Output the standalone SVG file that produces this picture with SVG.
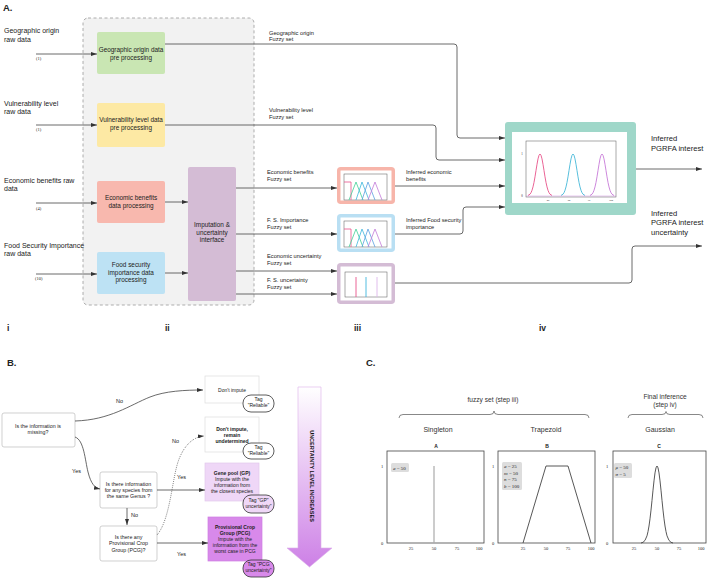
<svg xmlns="http://www.w3.org/2000/svg" width="708" height="580" viewBox="0 0 708 580">
<style>
text{font-family:"Liberation Sans",Arial,sans-serif;fill:#222}
.h{font-size:9.5px;font-weight:bold}
.raw{font-size:7px}
.bx{font-size:6.4px;text-anchor:middle}
.fz{font-size:5.7px}
.out{font-size:7.6px}
.bt{font-size:5.5px}
.btc{font-size:5.3px;text-anchor:middle}
.sm{font-size:5px;text-anchor:middle}
.smb{font-size:5px;text-anchor:middle;font-weight:bold}
.num{font-family:"Liberation Serif",serif;font-size:4.5px}
.tick{font-family:"Liberation Serif",serif;font-size:4.5px;text-anchor:middle}
.ct{font-size:6.6px;text-anchor:middle;fill:#333}
.ttl{font-size:7px;text-anchor:middle;fill:#333}
.lg{font-family:"Liberation Serif",serif;font-size:5px}
.conn path,.conn line{fill:none;stroke:#444;stroke-width:0.8}
.arr{marker-end:url(#ah)}
.wb{fill:#fff;stroke:#bbb;stroke-width:0.7}
.pill{stroke:#333;stroke-width:0.8}
.frame{fill:#fff;stroke:#444;stroke-width:0.8}
.mini{fill:none;stroke:#555;stroke-width:0.5}
</style>
<defs>
<marker id="ah" markerUnits="userSpaceOnUse" markerWidth="6" markerHeight="4" viewBox="0 0 6 4" refX="6" refY="2" orient="auto">
<path d="M0,0 L6,2 L0,4 z" fill="#333"/>
</marker>
<linearGradient id="ug" x1="0" y1="0" x2="0" y2="1">
<stop offset="0" stop-color="#ffffff"/>
<stop offset="1" stop-color="#cd80e6"/>
</linearGradient>
<path id="gauss" fill="none" stroke-width="0.9" d="M-12,195.5 L-10,194.2 L-9,192.7 L-8,190.3 L-7,186.9 L-6,182.4 L-5,176.8 L-4,170.5 L-3,164.3 L-2,158.9 L-1,155.3 L0,154 L1,155.3 L2,158.9 L3,164.3 L4,170.5 L5,176.8 L6,182.4 L7,186.9 L8,190.3 L9,192.7 L10,194.2 L12,195.5"/>
<g id="tri">
<rect x="344" y="174" width="43" height="26" class="mini"/>
<path d="M344,182 H351 V200" fill="none" stroke="#e8528a" stroke-width="0.8"/>
<path d="M349,200 L356,182 L363,200" fill="none" stroke="#3fcf95" stroke-width="0.8"/>
<path d="M356,200 L362,182 L369,200" fill="none" stroke="#3fb6dc" stroke-width="0.8"/>
<path d="M362,200 L368,182 L375,200" fill="none" stroke="#5a9fe0" stroke-width="0.8"/>
<path d="M368,200 L375,182 L382,200" fill="none" stroke="#c27ad8" stroke-width="0.8"/>
</g>
</defs>
<rect width="708" height="580" fill="#fff"/>

<!-- Section A -->
<text class="h" x="3" y="11">A.</text>
<rect id="stage-ii-area" x="83" y="18" width="171" height="287" rx="5" fill="#f2f2f2" stroke="#999" stroke-width="0.8" stroke-dasharray="3,2.5"/>

<g id="raw-geo"><text class="raw" x="4" y="32.5">Geographic origin</text><text class="raw" x="4" y="41.5">raw data</text><text class="num" x="36" y="60">(1)</text></g>
<g id="raw-vul"><text class="raw" x="4" y="105.5">Vulnerability level</text><text class="raw" x="4" y="114">raw data</text><text class="num" x="36" y="131">(1)</text></g>
<g id="raw-eco"><text class="raw" x="4" y="182.5">Economic benefits raw</text><text class="raw" x="4" y="191">data</text><text class="num" x="36" y="210">(4)</text></g>
<g id="raw-fs"><text class="raw" x="4" y="247.5">Food Security Importance</text><text class="raw" x="4" y="256">raw data</text><text class="num" x="35" y="280">(10)</text></g>

<g id="geo-proc"><rect x="97" y="32" width="68" height="42" rx="2" fill="#c9e6b3"/><text class="bx" x="131" y="52">Geographic origin data</text><text class="bx" x="131" y="59.5">pre processing</text></g>
<g id="vul-proc"><rect x="97" y="103" width="68" height="44" rx="2" fill="#fde9a4"/><text class="bx" x="131" y="122">Vulnerability level data</text><text class="bx" x="131" y="130">pre processing</text></g>
<g id="eco-proc"><rect x="97" y="181" width="68" height="42" rx="2" fill="#f8b8ae"/><text class="bx" x="131" y="200">Economic benefits</text><text class="bx" x="131" y="208">data processing</text></g>
<g id="fs-proc"><rect x="97" y="252" width="68" height="42" rx="2" fill="#bde2f4"/><text class="bx" x="131" y="267">Food security</text><text class="bx" x="131" y="275">importance data</text><text class="bx" x="131" y="282">processing</text></g>
<g id="imputation"><rect x="188" y="167" width="48" height="134" rx="2" fill="#d4bcd5"/><text class="bx" x="212" y="227">Imputation &amp;</text><text class="bx" x="212" y="235">uncertainty</text><text class="bx" x="212" y="242">interface</text></g>

<g id="fz-eco">
<rect x="338.75" y="168.75" width="54.5" height="33.5" rx="2" fill="#fff" stroke="#f7b5aa" stroke-width="3.5"/>
<use href="#tri"/>
</g>
<g id="fz-fs">
<rect x="338.75" y="215.75" width="54.5" height="34.5" rx="2" fill="#fff" stroke="#b9dff3" stroke-width="3.5"/>
<use href="#tri" transform="translate(0,47)"/>
</g>
<g id="fz-unc">
<rect x="338.75" y="264.75" width="54.5" height="37.5" rx="2" fill="#fff" stroke="#d4bcd5" stroke-width="3.5"/>
<rect x="345" y="272" width="42" height="25" class="mini"/>
<line x1="356" y1="277" x2="356" y2="297" stroke="#e8528a" stroke-width="0.9"/>
<line x1="366" y1="277" x2="366" y2="297" stroke="#3fb6dc" stroke-width="0.9"/>
<line x1="377" y1="277" x2="377" y2="297" stroke="#dcb6ea" stroke-width="0.9"/>
</g>

<g id="final-inference">
<rect x="505" y="122" width="131" height="93" rx="3" fill="#9fd7c9"/>
<rect x="512" y="132" width="115" height="71" fill="#fff"/>
<rect x="526" y="141" width="90" height="56" class="mini"/>
<use href="#gauss" x="540" stroke="#e8528a"/>
<use href="#gauss" x="573" stroke="#45b8d8"/>
<use href="#gauss" x="602" stroke="#c77ad8"/>
<line x1="526" y1="196" x2="616" y2="196" stroke="#c77ad8" stroke-width="0.4"/>
<text class="tick" x="522" y="155" style="font-size:3px">1</text>
<text class="tick" x="522" y="197" style="font-size:3px">0</text>
<text class="tick" x="548" y="201" style="font-size:2.6px">25</text>
<text class="tick" x="569" y="201" style="font-size:2.6px">50</text>
<text class="tick" x="589" y="201" style="font-size:2.6px">75</text>
<text class="tick" x="611" y="201" style="font-size:2.6px">100</text>
</g>

<g class="conn" id="connectors-a">
<line class="arr" x1="36" y1="54" x2="97" y2="54"/>
<line class="arr" x1="36" y1="125" x2="97" y2="125"/>
<line class="arr" x1="36" y1="203" x2="97" y2="203"/>
<line class="arr" x1="36" y1="274" x2="97" y2="274"/>
<line class="arr" x1="165" y1="202" x2="188" y2="202"/>
<line class="arr" x1="165" y1="273" x2="188" y2="273"/>
<path class="arr" d="M165,44 H454 Q457,44 457,47 V135 Q457,138 460,138 H505"/>
<path class="arr" d="M165,125 H433 Q436,125 436,128 V157 Q436,160 439,160 H505"/>
<line class="arr" x1="236" y1="188" x2="337" y2="188"/>
<line class="arr" x1="236" y1="234" x2="337" y2="234"/>
<line class="arr" x1="236" y1="271" x2="337" y2="271"/>
<line class="arr" x1="236" y1="294" x2="337" y2="294"/>
<line class="arr" x1="395" y1="186" x2="505" y2="186"/>
<path class="arr" d="M395,234 H460 Q463,234 463,231 V210 Q463,207 466,207 H505"/>
<path class="arr" d="M395,283 H629 Q632,283 632,280 V249 Q632,246 635,246 H702"/>
<line class="arr" x1="636" y1="169" x2="702" y2="169"/>
</g>

<g id="connector-labels-a">
<text class="fz" x="269" y="34.5">Geographic origin</text><text class="fz" x="269" y="41">Fuzzy set</text>
<text class="fz" x="269" y="112">Vulnerability level</text><text class="fz" x="269" y="119">Fuzzy set</text>
<text class="fz" x="267" y="174">Economic benefits</text><text class="fz" x="267" y="181">Fuzzy set</text>
<text class="fz" x="267" y="222">F. S. Importance</text><text class="fz" x="267" y="229">Fuzzy set</text>
<text class="fz" x="267" y="258">Economic uncertainty</text><text class="fz" x="267" y="265">Fuzzy set</text>
<text class="fz" x="267" y="282">F. S. uncertainty</text><text class="fz" x="267" y="289">Fuzzy set</text>
<text class="fz" x="406" y="174">Inferred economic</text><text class="fz" x="406" y="181">benefits</text>
<text class="fz" x="406" y="222">Inferred Food security</text><text class="fz" x="406" y="229">importance</text>
<text class="out" x="651" y="140.5">Inferred</text><text class="out" x="651" y="150.5">PGRFA interest</text>
<text class="out" x="651" y="215.5">Inferred</text><text class="out" x="651" y="225">PGRFA interest</text><text class="out" x="651" y="234.5">uncertainty</text>
</g>

<g id="stage-labels">
<text class="h" x="7" y="331" style="font-size:8.5px">i</text>
<text class="h" x="165" y="331" style="font-size:8.5px">ii</text>
<text class="h" x="354" y="331" style="font-size:8.5px">iii</text>
<text class="h" x="539" y="331" style="font-size:8.5px">iv</text>
</g>

<!-- Section B -->
<text class="h" x="7" y="366">B.</text>
<g id="q-missing"><rect class="wb" x="2" y="413" width="73" height="34" rx="2"/><text class="btc" x="38" y="427.5">Is the information is</text><text class="btc" x="38" y="434">missing?</text></g>
<g id="q-genus"><rect class="wb" x="100" y="472" width="57" height="36" rx="2"/><text class="btc" x="128.5" y="485.5">Is there information</text><text class="btc" x="128.5" y="492">for any species from</text><text class="btc" x="128.5" y="498">the same Genus ?</text></g>
<g id="q-pcg"><rect class="wb" x="100" y="526" width="57" height="35" rx="2"/><text class="btc" x="128.5" y="538.5">Is there any</text><text class="btc" x="128.5" y="545">Provisional Crop</text><text class="btc" x="128.5" y="552">Group (PCG)?</text></g>

<g id="r-dont-impute"><rect x="205" y="376" width="54" height="27" fill="#fff" stroke="#ddd" stroke-width="0.7"/><text class="sm" x="232" y="391.5">Don't impute</text></g>
<g id="tag-reliable-1"><rect class="pill" x="243" y="395" width="31" height="17" rx="8" fill="#fff"/><text class="sm" x="258.5" y="401">Tag</text><text class="sm" x="258.5" y="406.5">"Reliable"</text></g>
<g id="r-undetermined"><rect x="205" y="417" width="54" height="35" fill="#fff" stroke="#ddd" stroke-width="0.7"/><text class="smb" x="232" y="430.5">Don't impute,</text><text class="smb" x="232" y="436.5">remain</text><text class="smb" x="232" y="442.5">undetermined</text></g>
<g id="tag-reliable-2"><rect class="pill" x="243" y="443" width="31" height="16" rx="8" fill="#fff"/><text class="sm" x="258.5" y="448.5">Tag</text><text class="sm" x="258.5" y="454.5">"Reliable"</text></g>
<g id="r-genepool"><rect x="205" y="463" width="54" height="38" fill="#efd7f7" stroke="#e2c8ec" stroke-width="0.7"/><text class="smb" x="232" y="474.5">Gene pool (GP)</text><text class="sm" x="232" y="481">Impute with the</text><text class="sm" x="232" y="487">information from</text><text class="sm" x="232" y="493">the closest species</text></g>
<g id="tag-gp"><rect class="pill" x="243" y="495" width="31" height="18" rx="8" fill="#efd7f7"/><text class="sm" x="258.5" y="501.5">Tag "GP"</text><text class="sm" x="258.5" y="507.5">uncertainty"</text></g>
<g id="r-pcg"><rect x="208" y="517" width="54" height="44" fill="#d889ea" stroke="#cf7ee3" stroke-width="0.7"/><text class="smb" x="235" y="529">Provisional Crop</text><text class="smb" x="235" y="535">Group (PCG)</text><text class="sm" x="235" y="541">Impute with the</text><text class="sm" x="235" y="547">information from the</text><text class="sm" x="235" y="553">worst case in PCG</text></g>
<g id="tag-pcg"><rect class="pill" x="243" y="560" width="31" height="17" rx="8" fill="#d889ea"/><text class="sm" x="258.5" y="566">Tag "PCG</text><text class="sm" x="258.5" y="572">uncertainty"</text></g>

<g id="uncertainty-arrow">
<polygon points="298,387 321,387 321,548 332,548 309.5,567 287,548 298,548" fill="url(#ug)" stroke="#dcb0ea" stroke-width="0.6"/>
<text transform="translate(309.5,476) rotate(90)" text-anchor="middle" style="font-size:5.5px;font-weight:bold;fill:#111">UNCERTAINTY LEVEL INCREASES</text>
</g>

<g class="conn" id="connectors-b">
<path class="arr" d="M75,421 C110,420 130,405 150,397 C165,391 185,390 203,390"/>
<path class="arr" d="M75,437 C84,440 85,460 88,472 C91,484 95,488 100,489"/>
<line class="arr" x1="127" y1="508" x2="127" y2="525"/>
<path class="arr" d="M157,535 C170,520 172,480 178,462 C183,447 192,437 204,436" style="stroke-dasharray:0.8,1.2"/>
<line class="arr" x1="157" y1="490" x2="205" y2="490"/>
<line class="arr" x1="157" y1="543" x2="208" y2="543"/>
</g>
<g id="connector-labels-b">
<text class="bt" x="116" y="403">No</text>
<text class="bt" x="72" y="472.5">Yes</text>
<text class="bt" x="131" y="516.5">No</text>
<text class="bt" x="172" y="442.5">No</text>
<text class="bt" x="177" y="479">Yes</text>
<text class="bt" x="177" y="556">Yes</text>
</g>

<!-- Section C -->
<text class="h" x="366" y="366">C.</text>
<g id="braces">
<text class="ct" x="493" y="402">fuzzy set (step iii)</text>
<text class="ct" x="665" y="398.5">Final inference</text>
<text class="ct" x="665" y="407">(step iv)</text>
<path d="M399,418 Q399,414.5 403,414.5 H490 Q494,414.5 494,411 Q494,414.5 498,414.5 H585 Q589,414.5 589,418" fill="none" stroke="#555" stroke-width="0.7"/>
<path d="M628,418 Q628,414.5 632,414.5 H662 Q666,414.5 666,411.5 Q666,414.5 670,414.5 H699 Q703,414.5 703,418" fill="none" stroke="#555" stroke-width="0.7"/>
</g>

<g id="plot-singleton">
<text class="ttl" x="438" y="432">Singleton</text>
<text x="436" y="448" style="font-size:5px;font-weight:bold;text-anchor:middle">A</text>
<rect class="frame" x="387" y="451" width="97" height="92"/>
<line x1="434" y1="466" x2="434" y2="543" stroke="#aaa" stroke-width="1.2"/>
<rect x="391" y="463" width="18" height="9" rx="1.5" fill="#ddd"/>
<text class="lg" x="393" y="469.5"><tspan font-style="italic">a</tspan> = 50</text>
<text class="tick" x="382" y="467.5">1</text><text class="tick" x="382" y="545">0</text>
<text class="tick" x="411" y="550">25</text><text class="tick" x="434" y="550">50</text><text class="tick" x="457" y="550">75</text><text class="tick" x="479" y="550">100</text>
</g>

<g id="plot-trapezoid">
<text class="ttl" x="546" y="432">Trapezoid</text>
<text x="547" y="448" style="font-size:5px;font-weight:bold;text-anchor:middle">B</text>
<rect class="frame" x="498" y="451" width="97" height="92"/>
<path d="M523,543 L546,466 L568,466 L591,543" fill="none" stroke="#444" stroke-width="0.9"/>
<rect x="502" y="462" width="20" height="28" rx="1.5" fill="#ddd"/>
<text class="lg" x="504" y="468"><tspan font-style="italic">a</tspan> = 25</text>
<text class="lg" x="504" y="474.5"><tspan font-style="italic">m</tspan> = 50</text>
<text class="lg" x="504" y="481"><tspan font-style="italic">n</tspan> = 75</text>
<text class="lg" x="504" y="487.5"><tspan font-style="italic">b</tspan> = 100</text>
<text class="tick" x="493" y="467.5">1</text><text class="tick" x="493" y="545">0</text>
<text class="tick" x="523" y="550">25</text><text class="tick" x="546" y="550">50</text><text class="tick" x="568" y="550">75</text><text class="tick" x="591" y="550">100</text>
</g>

<g id="plot-gaussian">
<text class="ttl" x="660" y="432">Gaussian</text>
<text x="659" y="448" style="font-size:5px;font-weight:bold;text-anchor:middle">C</text>
<rect class="frame" x="613" y="451" width="93" height="92"/>
<path d="M641,543 L643,542.3 L645,540.4 L647,535.8 L648,531.6 L649,526 L650,518.8 L651,510.1 L652,500.4 L653,490.2 L654,480.8 L655,472.9 L656,467.8 L657,466 L658,467.8 L659,472.9 L660,480.8 L661,490.2 L662,500.4 L663,510.1 L664,518.8 L665,526 L666,531.6 L667,535.8 L669,540.4 L671,542.3 L673,543" fill="none" stroke="#444" stroke-width="0.9"/>
<rect x="614" y="463" width="18" height="15" rx="1.5" fill="#ddd"/>
<text class="lg" x="615.5" y="469"><tspan font-style="italic">μ</tspan> = 50</text>
<text class="lg" x="615.5" y="475.5"><tspan font-style="italic">σ</tspan> = 5</text>
<text class="tick" x="607" y="467.5">1</text><text class="tick" x="607" y="545">0</text>
<text class="tick" x="634" y="550">25</text><text class="tick" x="657" y="550">50</text><text class="tick" x="679" y="550">75</text><text class="tick" x="701" y="550">100</text>
</g>
</svg>
